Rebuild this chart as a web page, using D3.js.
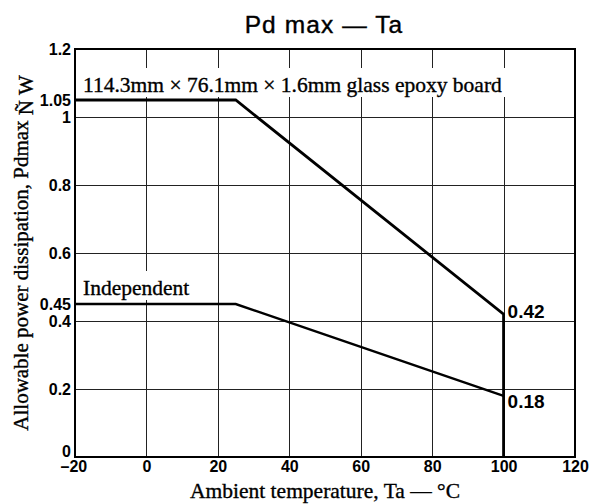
<!DOCTYPE html>
<html>
<head>
<meta charset="utf-8">
<script src="https://cdn.jsdelivr.net/npm/d3@7"></script>
<style>
  body { margin: 0; background: #fff; }
  .serif { font-family: "Liberation Serif", "Times New Roman", serif; stroke: #000; stroke-width: 0.35px; }
  .sans { font-family: "Liberation Sans", Arial, sans-serif; }
</style>
</head>
<body>
<svg id="chart"></svg>
<script>
// derating curves
var boardTemps = [-20, 25, 100, 100];
var boardPd = [1.05, 1.05, 0.42, 0];
var indepTemps = [-20, 25, 100];
var indepPd = [0.45, 0.45, 0.18];

var xTicks = [-20, 0, 20, 40, 60, 80, 100, 120];
var yTicks = [0, 0.2, 0.4, 0.45, 0.6, 0.8, 1, 1.05, 1.2];
var yGrid = [0.2, 0.4, 0.6, 0.8, 1.0];
var xGrid = [0, 20, 40, 60, 80, 100];

var boardLabel = "114.3mm \u00d7 76.1mm \u00d7 1.6mm glass epoxy board";
var indepLabel = "Independent";
var endLabels = ["0.42", "0.18"];

var W = 591, H = 504;
var svg = d3.select("#chart").attr("width", W).attr("height", H);

var x = d3.scaleLinear().domain([-20, 120]).range([75, 575]);
var y = d3.scaleLinear().domain([0, 1.2]).range([457, 49]);

// grid
var grid = svg.append("g").attr("shape-rendering", "crispEdges");
grid.selectAll(".vg").data(xGrid).enter().append("line")
  .attr("x1", d => Math.round(x(d)) + 0.5).attr("x2", d => Math.round(x(d)) + 0.5)
  .attr("y1", y(1.2)).attr("y2", y(0))
  .attr("stroke", "#222").attr("stroke-width", 1);
grid.selectAll(".hg").data(yGrid).enter().append("line")
  .attr("y1", d => Math.round(y(d)) + 0.5).attr("y2", d => Math.round(y(d)) + 0.5)
  .attr("x1", x(-20)).attr("x2", x(120))
  .attr("stroke", "#222").attr("stroke-width", 1);

// frame
svg.append("rect")
  .attr("x", x(-20)).attr("y", y(1.2))
  .attr("width", x(120) - x(-20)).attr("height", y(0) - y(1.2))
  .attr("fill", "none").attr("stroke", "#000").attr("stroke-width", 2);

// labels with white backing so the grid breaks behind them
function boxedLabel(txt, tx, ty) {
  var g = svg.append("g");
  var r = g.append("rect").attr("fill", "#fff");
  var t = g.append("text").attr("class", "serif")
    .attr("x", tx).attr("y", ty)
    .attr("font-size", 21.5).attr("fill", "#000").text(txt);
  var bb = t.node().getBBox();
  r.attr("x", bb.x - 3).attr("y", ty - 24).attr("width", bb.width + 6).attr("height", 29);
}
boxedLabel(boardLabel, 83, 92);
boxedLabel(indepLabel, 83, 295);

// curves
var line = d3.line().x(d => x(d[0])).y(d => y(d[1]));
svg.append("path")
  .attr("d", line(d3.zip(boardTemps, boardPd)))
  .attr("fill", "none").attr("stroke", "#000").attr("stroke-width", 2.8)
  .attr("stroke-linejoin", "miter");
svg.append("path")
  .attr("d", line(d3.zip(indepTemps, indepPd)))
  .attr("fill", "none").attr("stroke", "#000").attr("stroke-width", 2.4);

// end values
svg.append("text").attr("class", "sans")
  .attr("x", x(100) + 4).attr("y", y(0.42) + 4)
  .attr("font-size", 19).attr("font-weight", "bold").text(endLabels[0]);
svg.append("text").attr("class", "sans")
  .attr("x", x(100) + 4).attr("y", y(0.18) + 12)
  .attr("font-size", 19).attr("font-weight", "bold").text(endLabels[1]);

// axes (labels only)
var fmtY = d => String(d);
var xAxis = svg.append("g").attr("transform", "translate(0," + y(0) + ")")
  .call(d3.axisBottom(x).tickValues(xTicks).tickSize(0).tickPadding(4)
    .tickFormat(d => d < 0 ? "\u2013" + Math.abs(d) : String(d)));
var yAxis = svg.append("g").attr("transform", "translate(" + x(-20) + ",0)")
  .call(d3.axisLeft(y).tickValues(yTicks).tickSize(0).tickPadding(4).tickFormat(fmtY));
[xAxis, yAxis].forEach(function(a) {
  a.select(".domain").remove();
  a.selectAll("text")
    .attr("class", "sans").attr("font-size", 16).attr("font-weight", "bold")
    .attr("fill", "#000");
});
yAxis.selectAll("text").filter(d => d === 0).attr("dy", "-0.05em");
xAxis.selectAll("text").filter(d => d === -20).attr("dx", "-0.1em");

// title
svg.append("text").attr("class", "sans")
  .attr("x", 324).attr("y", 33).attr("text-anchor", "middle")
  .attr("font-size", 24.5).attr("letter-spacing", 1.1)
  .attr("stroke", "#000").attr("stroke-width", 0.4).text("Pd max \u2014 Ta");

// axis titles
svg.append("text").attr("class", "serif")
  .attr("x", (x(-20) + x(120)) / 2).attr("y", 498).attr("text-anchor", "middle")
  .attr("font-size", 21.5).text("Ambient temperature, Ta \u2014 \u00b0C");

var yt = svg.append("text").attr("class", "serif")
  .attr("transform", "translate(28," + (y(0) + y(1.2)) / 2 + ") rotate(-90)")
  .attr("text-anchor", "middle").attr("font-size", 21);
yt.append("tspan").text("Allowable power dissipation, Pdmax ");
yt.append("tspan").attr("dy", 5).text("\u00d1 W");
</script>
</body>
</html>
